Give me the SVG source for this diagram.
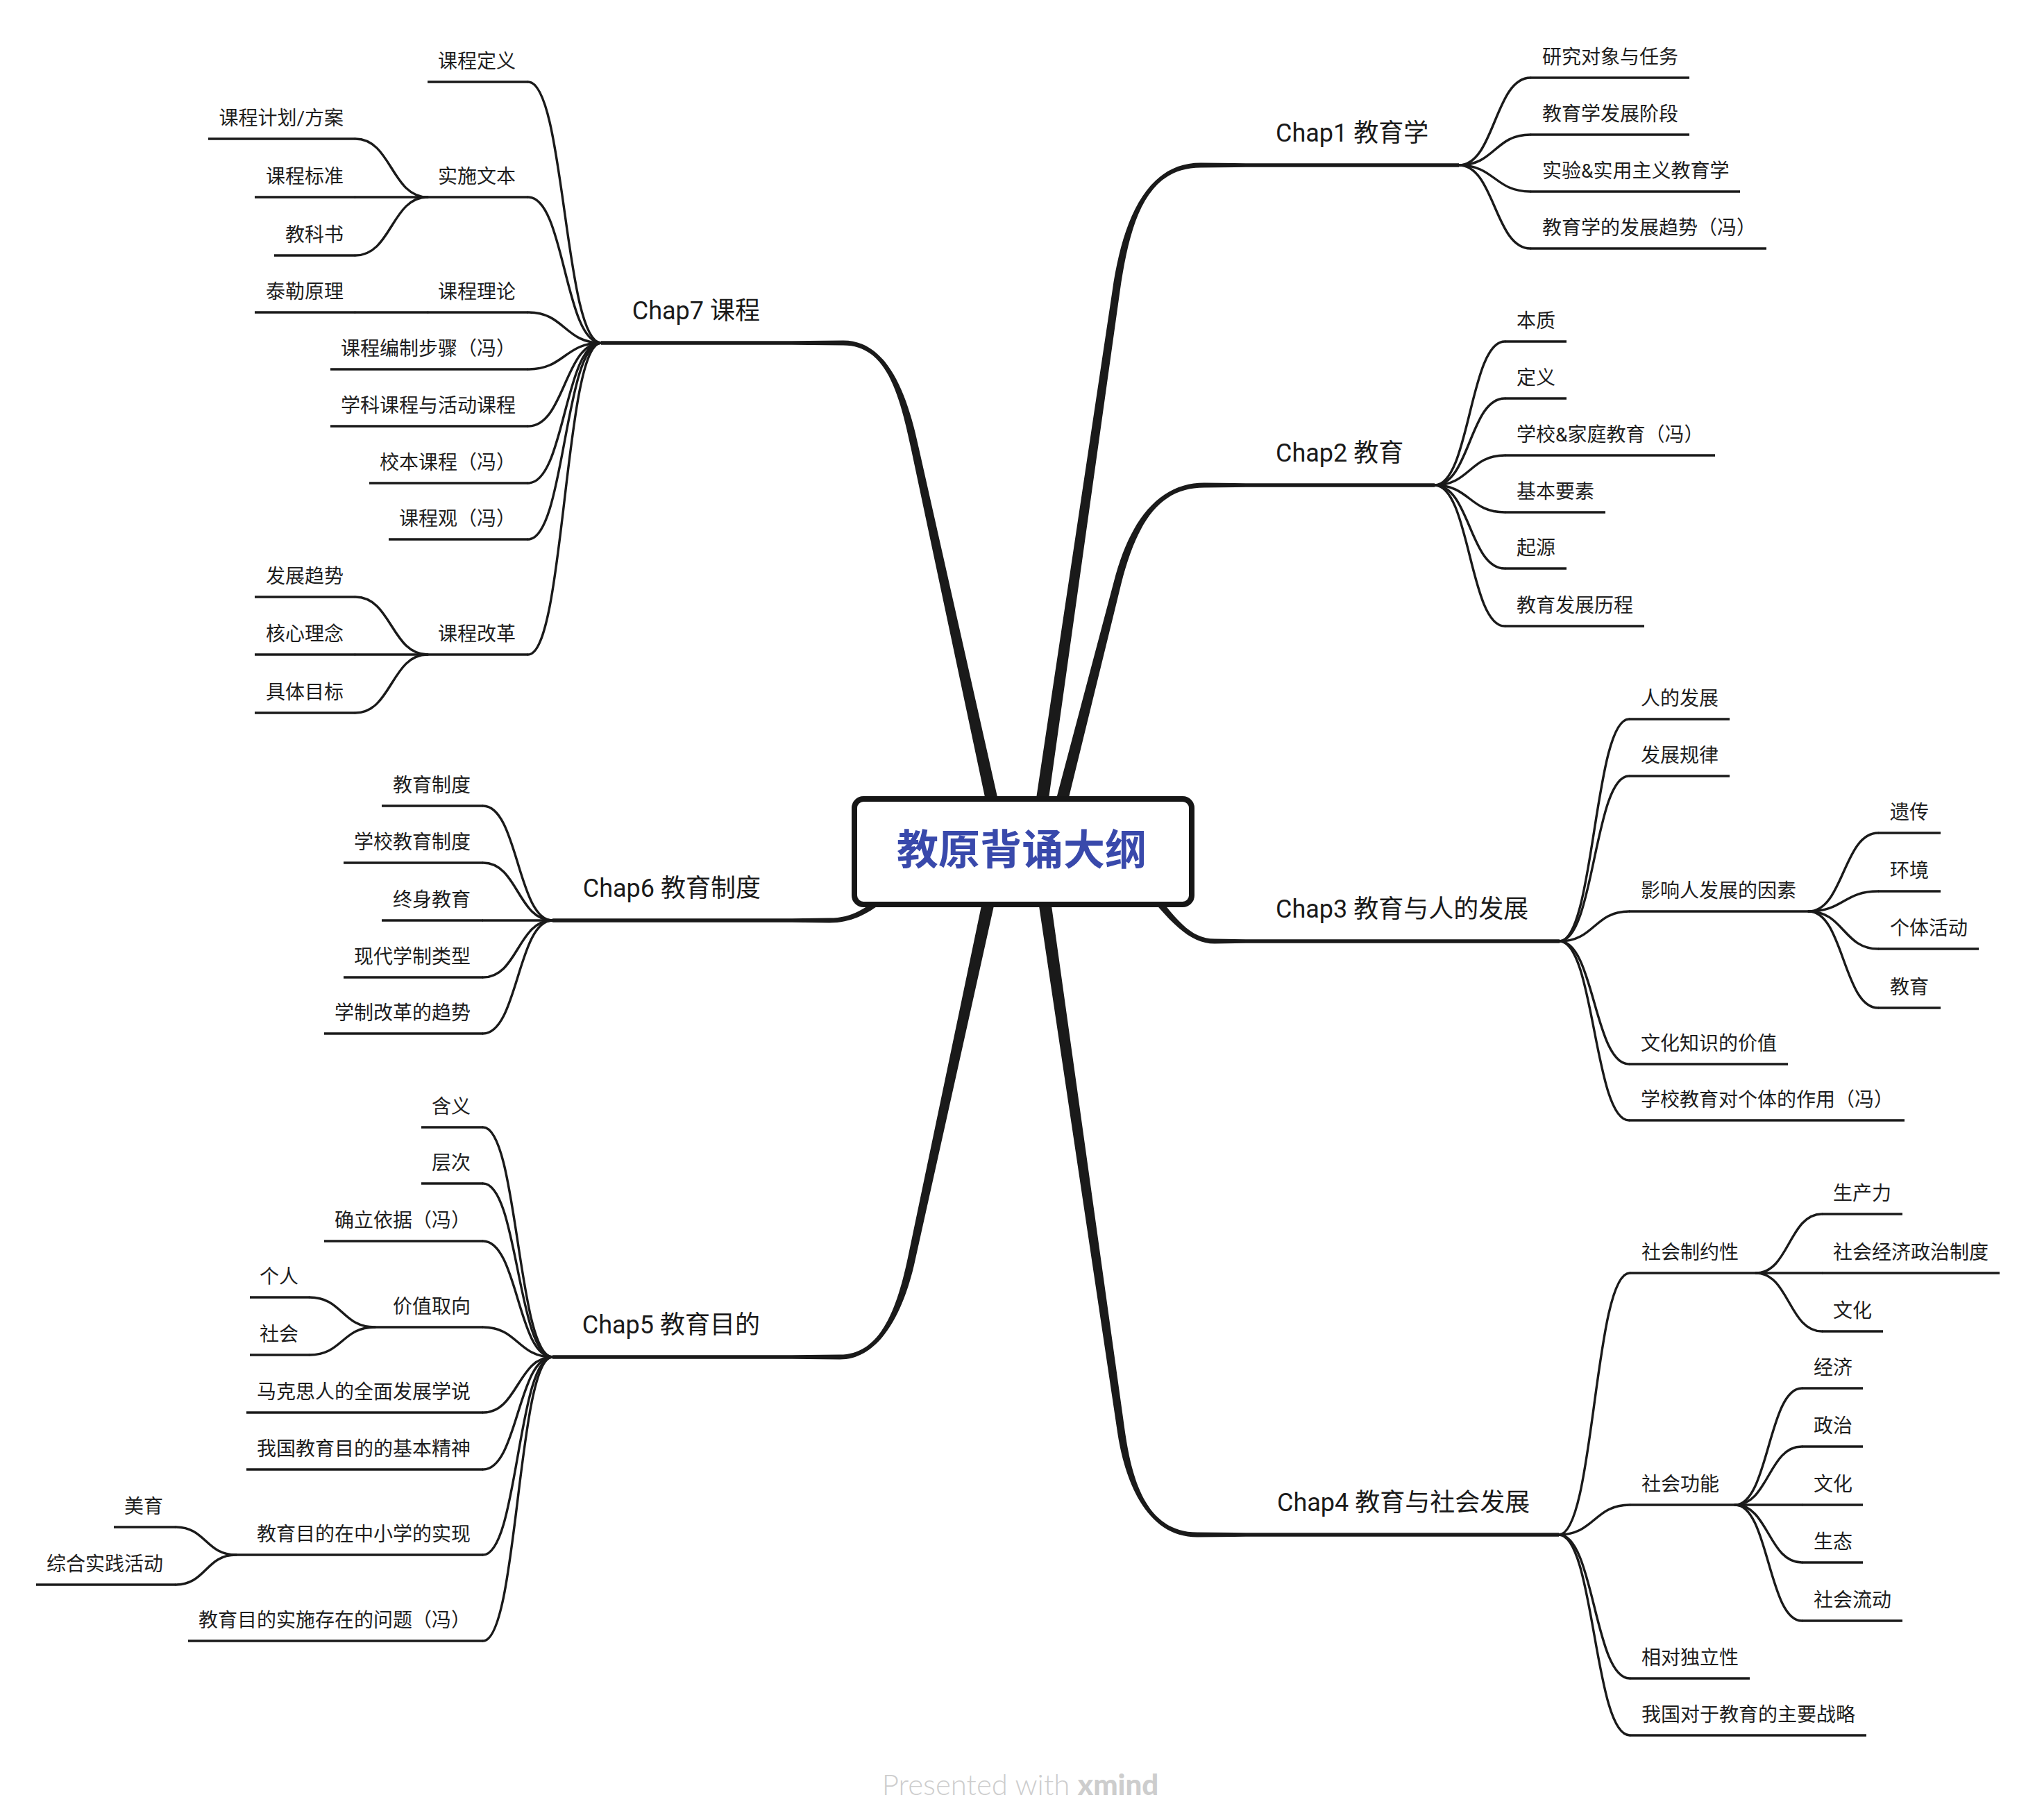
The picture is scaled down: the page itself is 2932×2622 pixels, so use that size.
<svg xmlns="http://www.w3.org/2000/svg" width="2932" height="2622" viewBox="0 0 2932 2622">
<style>
.c{fill:none;stroke:#1a1a1a;stroke-width:3.4;stroke-linecap:round}
.u{fill:none;stroke:#1a1a1a;stroke-width:3.6}
.cu{fill:none;stroke:#1a1a1a;stroke-width:5.5}
.m{fill:#1a1a1a;stroke:none}
.t{font-family:Roboto,"Noto Sans CJK SC",sans-serif;font-size:28px;fill:#1e1e1e}
.ct{font-family:Roboto,"Noto Sans CJK SC",sans-serif;font-size:36px;fill:#1a1a1a}
.e{text-anchor:end}
</style>
<rect width="2932" height="2622" fill="#fff"/>
<g id="connectors">
<path class="m" d="M1454.1,1224 L1323.4,643.8 C1305.4,558.8 1275,490.5 1215,490.5 L1141,491.25 L1141,496.75 L1215,497.5 C1275,497.5 1294.6,561.2 1312.6,646.2 L1435.9,1228 Z"/>
<path class="m" d="M1500.2,1227.3 L1613.4,420.8 C1627.8,321.8 1650,241.5 1730,241.5 L1795,240.75 L1795,235.25 L1730,234.5 C1650,234.5 1617,320.2 1602.6,419.2 L1481.8,1224.7 Z"/>
<path class="m" d="M1520.5,1228.3 L1615.3,841.4 C1640,744.5 1675,702.5 1735,702.5 L1795,701.75 L1795,696.25 L1735,695.5 C1675,695.5 1629.4,741.7 1604.7,838.6 L1502.5,1223.7 Z"/>
<path class="m" d="M1625.3,1253.7 C1681.1,1323.1 1710,1359.5 1750,1359.5 L1795,1358.75 L1795,1353.25 L1750,1352.5 C1710,1352.5 1688.9,1316.9 1634.7,1246.3 Z"/>
<path class="m" d="M1485.4,1227.3 L1609.6,2060.8 C1619.6,2130.1 1650,2214.5 1725,2214.5 L1795,2213.75 L1795,2208.25 L1725,2207.5 C1650,2207.5 1630.4,2128.5 1620.4,2059.2 L1503.8,1224.7 Z"/>
<path class="m" d="M1430.9,1224 L1307.6,1813.8 C1292.8,1882.2 1270,1951.5 1210,1951.5 L1141,1952.25 L1141,1957.75 L1210,1958.5 C1270,1958.5 1303.6,1884.6 1318.4,1816.2 L1449.1,1228 Z"/>
<path class="m" d="M1296,1263.6 C1261.6,1296.3 1240,1322.5 1195,1322.5 L1141,1323.25 L1141,1328.75 L1195,1329.5 C1240,1329.5 1268.4,1303.7 1304,1272.4 Z"/>
<path class="c" d="M2102,238 C2153.5,238 2153.5,112 2205,112"/>
<path class="c" d="M2102,238 C2153.5,238 2153.5,194 2205,194"/>
<path class="c" d="M2102,238 C2153.5,238 2153.5,276 2205,276"/>
<path class="c" d="M2102,238 C2153.5,238 2153.5,358 2205,358"/>
<path class="c" d="M2067,699 C2117.5,699 2117.5,492 2168,492"/>
<path class="c" d="M2067,699 C2117.5,699 2117.5,574 2168,574"/>
<path class="c" d="M2067,699 C2117.5,699 2117.5,656 2168,656"/>
<path class="c" d="M2067,699 C2117.5,699 2117.5,738 2168,738"/>
<path class="c" d="M2067,699 C2117.5,699 2117.5,819 2168,819"/>
<path class="c" d="M2067,699 C2117.5,699 2117.5,902 2168,902"/>
<path class="c" d="M2247,1356 C2297,1356 2297,1036 2347,1036"/>
<path class="c" d="M2247,1356 C2297,1356 2297,1118 2347,1118"/>
<path class="c" d="M2247,1356 C2297,1356 2297,1313 2347,1313"/>
<path class="c" d="M2247,1356 C2297,1356 2297,1533 2347,1533"/>
<path class="c" d="M2247,1356 C2297,1356 2297,1614 2347,1614"/>
<path class="c" d="M2606,1313 C2656,1313 2656,1200 2706,1200"/>
<path class="c" d="M2606,1313 C2656,1313 2656,1284 2706,1284"/>
<path class="c" d="M2606,1313 C2656,1313 2656,1367 2706,1367"/>
<path class="c" d="M2606,1313 C2656,1313 2656,1452 2706,1452"/>
<path class="c" d="M2246,2211 C2297,2211 2297,1834 2348,1834"/>
<path class="c" d="M2246,2211 C2297,2211 2297,2168 2348,2168"/>
<path class="c" d="M2246,2211 C2297,2211 2297,2418 2348,2418"/>
<path class="c" d="M2246,2211 C2297,2211 2297,2500 2348,2500"/>
<path class="c" d="M2530,1834 C2577.5,1834 2577.5,1749 2625,1749"/>
<path class="c" d="M2530,1834 L2625,1834"/>
<path class="c" d="M2530,1834 C2577.5,1834 2577.5,1918 2625,1918"/>
<path class="c" d="M2500,2168 C2548,2168 2548,2000 2596,2000"/>
<path class="c" d="M2500,2168 C2548,2168 2548,2084 2596,2084"/>
<path class="c" d="M2500,2168 L2596,2168"/>
<path class="c" d="M2500,2168 C2548,2168 2548,2251 2596,2251"/>
<path class="c" d="M2500,2168 C2548,2168 2548,2335 2596,2335"/>
<path class="c" d="M866,494 C813.5,494 813.5,118 761,118"/>
<path class="c" d="M866,494 C813.5,494 813.5,284 761,284"/>
<path class="c" d="M866,494 C813.5,494 813.5,450 761,450"/>
<path class="c" d="M866,494 C813.5,494 813.5,532 761,532"/>
<path class="c" d="M866,494 C813.5,494 813.5,614 761,614"/>
<path class="c" d="M866,494 C813.5,494 813.5,696 761,696"/>
<path class="c" d="M866,494 C813.5,494 813.5,777 761,777"/>
<path class="c" d="M866,494 C813.5,494 813.5,943 761,943"/>
<path class="c" d="M616,284 C564,284 564,200 512,200"/>
<path class="c" d="M616,284 L512,284"/>
<path class="c" d="M616,284 C564,284 564,368 512,368"/>
<path class="c" d="M616,450 L512,450"/>
<path class="c" d="M616,943 C564,943 564,860 512,860"/>
<path class="c" d="M616,943 L512,943"/>
<path class="c" d="M616,943 C564,943 564,1027 512,1027"/>
<path class="c" d="M796,1326 C746,1326 746,1161 696,1161"/>
<path class="c" d="M796,1326 C746,1326 746,1243 696,1243"/>
<path class="c" d="M796,1326 L696,1326"/>
<path class="c" d="M796,1326 C746,1326 746,1408 696,1408"/>
<path class="c" d="M796,1326 C746,1326 746,1489 696,1489"/>
<path class="c" d="M796,1955 C746,1955 746,1624 696,1624"/>
<path class="c" d="M796,1955 C746,1955 746,1705 696,1705"/>
<path class="c" d="M796,1955 C746,1955 746,1788 696,1788"/>
<path class="c" d="M796,1955 C746,1955 746,1912 696,1912"/>
<path class="c" d="M796,1955 C746,1955 746,2035 696,2035"/>
<path class="c" d="M796,1955 C746,1955 746,2117 696,2117"/>
<path class="c" d="M796,1955 C746,1955 746,2240 696,2240"/>
<path class="c" d="M796,1955 C746,1955 746,2364 696,2364"/>
<path class="c" d="M540,1912 C493,1912 493,1869 446,1869"/>
<path class="c" d="M540,1912 C493,1912 493,1952 446,1952"/>
<path class="c" d="M340,2240 C296.5,2240 296.5,2200 253,2200"/>
<path class="c" d="M340,2240 C296.5,2240 296.5,2283 253,2283"/>
</g>

<g id="center">
<rect x="1231" y="1151" width="486" height="152" rx="13" fill="#fff" stroke="#161616" stroke-width="8"/>
<text x="1472" y="1246" text-anchor="middle" font-family="'Noto Sans CJK SC',sans-serif" font-size="60" font-weight="bold" fill="#3949AB">教原背诵大纲</text>
</g>

<g id="chap1"><line class="cu" x1="1795" y1="238" x2="2102" y2="238"/><text class="ct" x="1838" y="204">Chap1 教育学</text></g>
<g id="c1-1"><line class="u" x1="2205" y1="112" x2="2434" y2="112"/><text class="t" x="2222" y="92">研究对象与任务</text></g>
<g id="c1-2"><line class="u" x1="2205" y1="194" x2="2434" y2="194"/><text class="t" x="2222" y="174">教育学发展阶段</text></g>
<g id="c1-3"><line class="u" x1="2205" y1="276" x2="2507" y2="276"/><text class="t" x="2222" y="256">实验&amp;实用主义教育学</text></g>
<g id="c1-4"><line class="u" x1="2205" y1="358" x2="2545" y2="358"/><text class="t" x="2222" y="338">教育学的发展趋势（冯）</text></g>

<g id="chap2"><line class="cu" x1="1795" y1="699" x2="2067" y2="699"/><text class="ct" x="1838" y="665">Chap2 教育</text></g>
<g id="c2-1"><line class="u" x1="2168" y1="492" x2="2257" y2="492"/><text class="t" x="2185" y="472">本质</text></g>
<g id="c2-2"><line class="u" x1="2168" y1="574" x2="2257" y2="574"/><text class="t" x="2185" y="554">定义</text></g>
<g id="c2-3"><line class="u" x1="2168" y1="656" x2="2471" y2="656"/><text class="t" x="2185" y="636">学校&amp;家庭教育（冯）</text></g>
<g id="c2-4"><line class="u" x1="2168" y1="738" x2="2313" y2="738"/><text class="t" x="2185" y="718">基本要素</text></g>
<g id="c2-5"><line class="u" x1="2168" y1="819" x2="2257" y2="819"/><text class="t" x="2185" y="799">起源</text></g>
<g id="c2-6"><line class="u" x1="2168" y1="902" x2="2369" y2="902"/><text class="t" x="2185" y="882">教育发展历程</text></g>

<g id="chap3"><line class="cu" x1="1795" y1="1356" x2="2247" y2="1356"/><text class="ct" x="1838" y="1322">Chap3 教育与人的发展</text></g>
<g id="c3-1"><line class="u" x1="2347" y1="1036" x2="2492" y2="1036"/><text class="t" x="2364" y="1016">人的发展</text></g>
<g id="c3-2"><line class="u" x1="2347" y1="1118" x2="2492" y2="1118"/><text class="t" x="2364" y="1098">发展规律</text></g>
<g id="c3-3"><line class="u" x1="2347" y1="1313" x2="2606" y2="1313"/><text class="t" x="2364" y="1293">影响人发展的因素</text></g>
<g id="c3-3-1"><line class="u" x1="2706" y1="1200" x2="2796" y2="1200"/><text class="t" x="2723" y="1180">遗传</text></g>
<g id="c3-3-2"><line class="u" x1="2706" y1="1284" x2="2796" y2="1284"/><text class="t" x="2723" y="1264">环境</text></g>
<g id="c3-3-3"><line class="u" x1="2706" y1="1367" x2="2851" y2="1367"/><text class="t" x="2723" y="1347">个体活动</text></g>
<g id="c3-3-4"><line class="u" x1="2706" y1="1452" x2="2796" y2="1452"/><text class="t" x="2723" y="1432">教育</text></g>
<g id="c3-4"><line class="u" x1="2347" y1="1533" x2="2576" y2="1533"/><text class="t" x="2364" y="1513">文化知识的价值</text></g>
<g id="c3-5"><line class="u" x1="2347" y1="1614" x2="2744" y2="1614"/><text class="t" x="2364" y="1594">学校教育对个体的作用（冯）</text></g>

<g id="chap4"><line class="cu" x1="1795" y1="2211" x2="2246" y2="2211"/><text class="ct" x="1840" y="2177">Chap4 教育与社会发展</text></g>
<g id="c4-1"><line class="u" x1="2348" y1="1834" x2="2530" y2="1834"/><text class="t" x="2365" y="1814">社会制约性</text></g>
<g id="c4-1-1"><line class="u" x1="2625" y1="1749" x2="2741" y2="1749"/><text class="t" x="2641" y="1729">生产力</text></g>
<g id="c4-1-2"><line class="u" x1="2625" y1="1834" x2="2881" y2="1834"/><text class="t" x="2641" y="1814">社会经济政治制度</text></g>
<g id="c4-1-3"><line class="u" x1="2625" y1="1918" x2="2713" y2="1918"/><text class="t" x="2641" y="1898">文化</text></g>
<g id="c4-2"><line class="u" x1="2348" y1="2168" x2="2500" y2="2168"/><text class="t" x="2365" y="2148">社会功能</text></g>
<g id="c4-2-1"><line class="u" x1="2596" y1="2000" x2="2684" y2="2000"/><text class="t" x="2613" y="1980">经济</text></g>
<g id="c4-2-2"><line class="u" x1="2596" y1="2084" x2="2684" y2="2084"/><text class="t" x="2613" y="2064">政治</text></g>
<g id="c4-2-3"><line class="u" x1="2596" y1="2168" x2="2684" y2="2168"/><text class="t" x="2613" y="2148">文化</text></g>
<g id="c4-2-4"><line class="u" x1="2596" y1="2251" x2="2684" y2="2251"/><text class="t" x="2613" y="2231">生态</text></g>
<g id="c4-2-5"><line class="u" x1="2596" y1="2335" x2="2741" y2="2335"/><text class="t" x="2613" y="2315">社会流动</text></g>
<g id="c4-3"><line class="u" x1="2348" y1="2418" x2="2521" y2="2418"/><text class="t" x="2365" y="2398">相对独立性</text></g>
<g id="c4-4"><line class="u" x1="2348" y1="2500" x2="2689" y2="2500"/><text class="t" x="2365" y="2480">我国对于教育的主要战略</text></g>

<g id="chap7"><line class="cu" x1="866" y1="494" x2="1141" y2="494"/><text class="ct e" x="1095" y="460">Chap7 课程</text></g>
<g id="c7-1"><line class="u" x1="616" y1="118" x2="761" y2="118"/><text class="t e" x="743" y="98">课程定义</text></g>
<g id="c7-2"><line class="u" x1="616" y1="284" x2="761" y2="284"/><text class="t e" x="743" y="264">实施文本</text></g>
<g id="c7-2-1"><line class="u" x1="300" y1="200" x2="512" y2="200"/><text class="t e" x="495" y="180">课程计划/方案</text></g>
<g id="c7-2-2"><line class="u" x1="367" y1="284" x2="512" y2="284"/><text class="t e" x="495" y="264">课程标准</text></g>
<g id="c7-2-3"><line class="u" x1="395" y1="368" x2="512" y2="368"/><text class="t e" x="495" y="348">教科书</text></g>
<g id="c7-3"><line class="u" x1="616" y1="450" x2="761" y2="450"/><text class="t e" x="743" y="430">课程理论</text></g>
<g id="c7-3-1"><line class="u" x1="367" y1="450" x2="512" y2="450"/><text class="t e" x="495" y="430">泰勒原理</text></g>
<g id="c7-4"><line class="u" x1="476" y1="532" x2="761" y2="532"/><text class="t e" x="743" y="512">课程编制步骤（冯）</text></g>
<g id="c7-5"><line class="u" x1="476" y1="614" x2="761" y2="614"/><text class="t e" x="743" y="594">学科课程与活动课程</text></g>
<g id="c7-6"><line class="u" x1="532" y1="696" x2="761" y2="696"/><text class="t e" x="743" y="676">校本课程（冯）</text></g>
<g id="c7-7"><line class="u" x1="560" y1="777" x2="761" y2="777"/><text class="t e" x="743" y="757">课程观（冯）</text></g>
<g id="c7-8"><line class="u" x1="616" y1="943" x2="761" y2="943"/><text class="t e" x="743" y="923">课程改革</text></g>
<g id="c7-8-1"><line class="u" x1="367" y1="860" x2="512" y2="860"/><text class="t e" x="495" y="840">发展趋势</text></g>
<g id="c7-8-2"><line class="u" x1="367" y1="943" x2="512" y2="943"/><text class="t e" x="495" y="923">核心理念</text></g>
<g id="c7-8-3"><line class="u" x1="367" y1="1027" x2="512" y2="1027"/><text class="t e" x="495" y="1007">具体目标</text></g>

<g id="chap6"><line class="cu" x1="796" y1="1326" x2="1141" y2="1326"/><text class="ct e" x="1096" y="1292">Chap6 教育制度</text></g>
<g id="c6-1"><line class="u" x1="550" y1="1161" x2="696" y2="1161"/><text class="t e" x="678" y="1141">教育制度</text></g>
<g id="c6-2"><line class="u" x1="495" y1="1243" x2="696" y2="1243"/><text class="t e" x="678" y="1223">学校教育制度</text></g>
<g id="c6-3"><line class="u" x1="550" y1="1326" x2="696" y2="1326"/><text class="t e" x="678" y="1306">终身教育</text></g>
<g id="c6-4"><line class="u" x1="495" y1="1408" x2="696" y2="1408"/><text class="t e" x="678" y="1388">现代学制类型</text></g>
<g id="c6-5"><line class="u" x1="467" y1="1489" x2="696" y2="1489"/><text class="t e" x="678" y="1469">学制改革的趋势</text></g>

<g id="chap5"><line class="cu" x1="796" y1="1955" x2="1141" y2="1955"/><text class="ct e" x="1095" y="1921">Chap5 教育目的</text></g>
<g id="c5-1"><line class="u" x1="607" y1="1624" x2="696" y2="1624"/><text class="t e" x="678" y="1604">含义</text></g>
<g id="c5-2"><line class="u" x1="607" y1="1705" x2="696" y2="1705"/><text class="t e" x="678" y="1685">层次</text></g>
<g id="c5-3"><line class="u" x1="467" y1="1788" x2="696" y2="1788"/><text class="t e" x="678" y="1768">确立依据（冯）</text></g>
<g id="c5-4"><line class="u" x1="540" y1="1912" x2="696" y2="1912"/><text class="t e" x="678" y="1892">价值取向</text></g>
<g id="c5-4-1"><line class="u" x1="360" y1="1869" x2="446" y2="1869"/><text class="t e" x="430" y="1849">个人</text></g>
<g id="c5-4-2"><line class="u" x1="360" y1="1952" x2="446" y2="1952"/><text class="t e" x="430" y="1932">社会</text></g>
<g id="c5-5"><line class="u" x1="355" y1="2035" x2="696" y2="2035"/><text class="t e" x="678" y="2015">马克思人的全面发展学说</text></g>
<g id="c5-6"><line class="u" x1="355" y1="2117" x2="696" y2="2117"/><text class="t e" x="678" y="2097">我国教育目的的基本精神</text></g>
<g id="c5-7"><line class="u" x1="340" y1="2240" x2="696" y2="2240"/><text class="t e" x="678" y="2220">教育目的在中小学的实现</text></g>
<g id="c5-7-1"><line class="u" x1="164" y1="2200" x2="253" y2="2200"/><text class="t e" x="235" y="2180">美育</text></g>
<g id="c5-7-2"><line class="u" x1="52" y1="2283" x2="253" y2="2283"/><text class="t e" x="235" y="2263">综合实践活动</text></g>
<g id="c5-8"><line class="u" x1="271" y1="2364" x2="696" y2="2364"/><text class="t e" x="678" y="2344">教育目的实施存在的问题（冯）</text></g>

<g id="footer"><text x="1470" y="2586" text-anchor="middle" font-family="Lato,sans-serif" font-size="42" fill="#cdcdcd"><tspan font-weight="300">Presented with </tspan><tspan font-weight="900">xmind</tspan></text></g>
</svg>
